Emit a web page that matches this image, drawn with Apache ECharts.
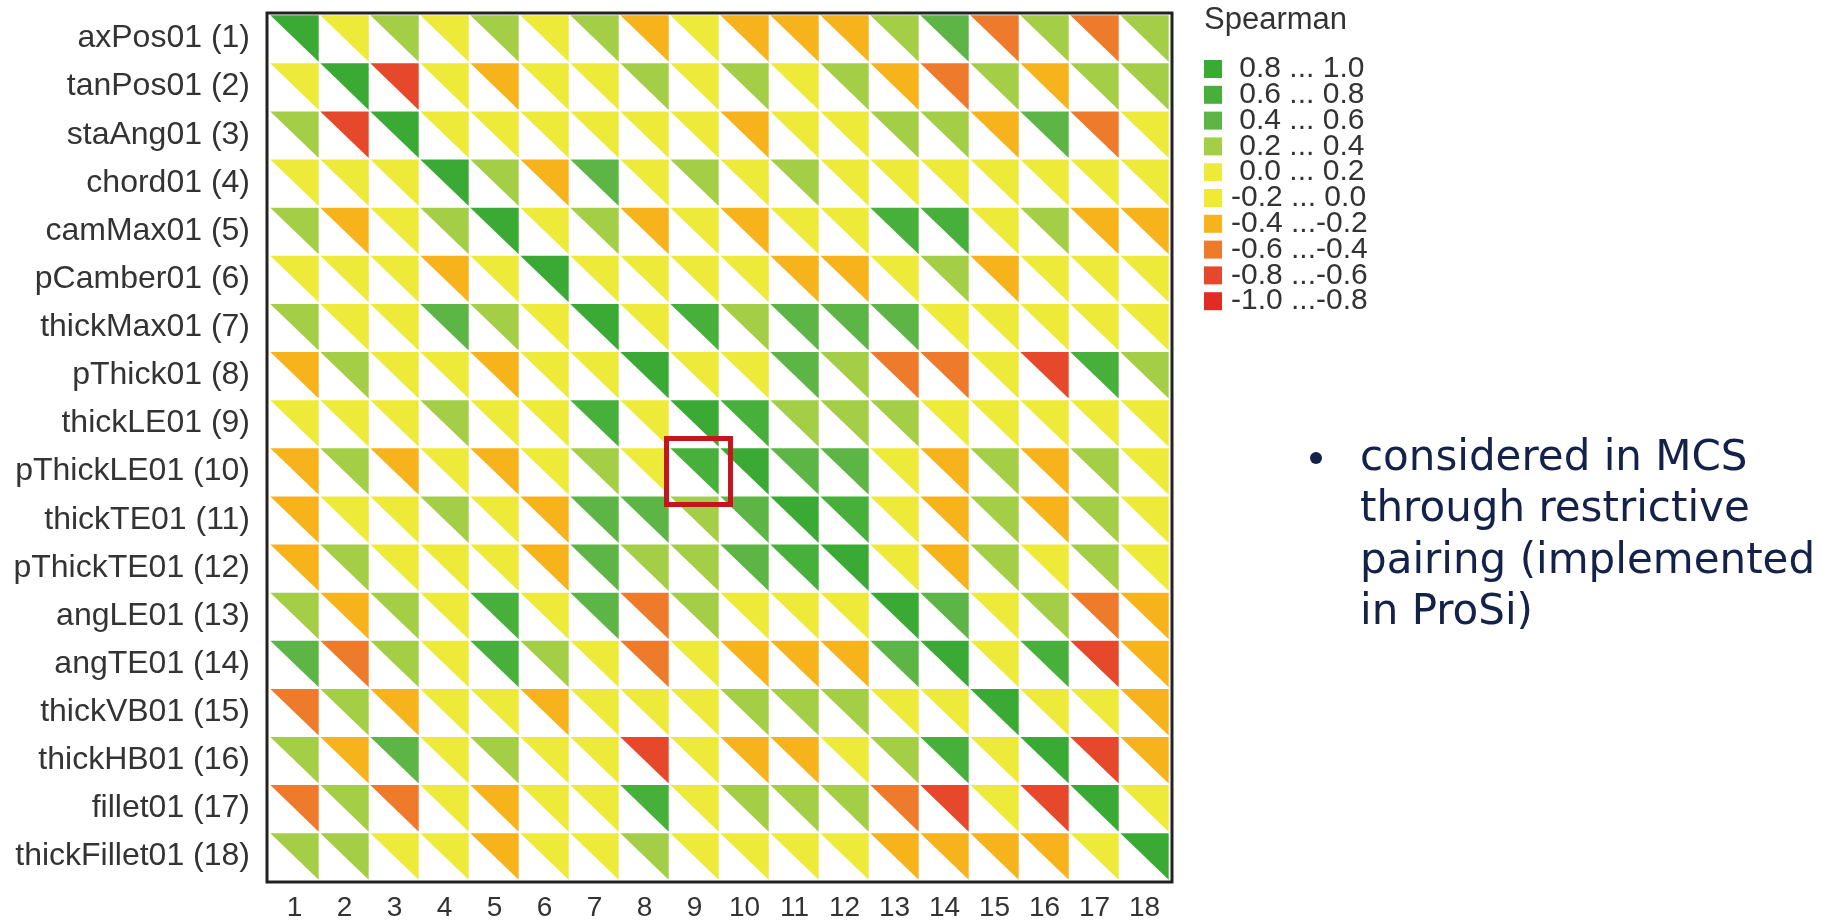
<!DOCTYPE html>
<html><head><meta charset="utf-8">
<script src="https://cdn.jsdelivr.net/npm/echarts@6/dist/echarts.min.js"></script>
<style>html,body{margin:0;padding:0;background:#fff}#c{width:1837px;height:922px}</style>
</head><body><div id="c"></div>
<script>
// ---- data ----
const varNames = ['axPos01','tanPos01','staAng01','chord01','camMax01','pCamber01','thickMax01','pThick01','thickLE01','pThickLE01','thickTE01','pThickTE01','angLE01','angTE01','thickVB01','thickHB01','fillet01','thickFillet01'];
const xTickLabels = ['1','2','3','4','5','6','7','8','9','10','11','12','13','14','15','16','17','18'];
const legendBreaks = [-1.0,-0.8,-0.6,-0.4,-0.2,0.0,0.2,0.4,0.6,0.8,1.0];
const legendColors = ['#e22b22','#e5482a','#ee7b2c','#f6b31c','#f0ea32','#eeea3a','#a4ce46','#5db545','#47b03b','#3aaa35'];
const highlightCell = [9, 10]; // [column, row]
const noteLines = ['considered in MCS','through restrictive','pairing (implemented','in ProSi)'];
// Spearman rank correlation matrix, row i = variable i, column j = variable j
const spearman = [
  [ 1.0, 0.1, 0.3, 0.1, 0.3, 0.1, 0.3,-0.3, 0.1,-0.3,-0.3,-0.3, 0.3, 0.5,-0.5, 0.3,-0.5, 0.3],
  [ 0.1, 1.0,-0.7, 0.1,-0.3, 0.1, 0.1, 0.3, 0.1, 0.3, 0.1, 0.3,-0.3,-0.5, 0.3,-0.3, 0.3, 0.3],
  [ 0.3,-0.7, 1.0, 0.1, 0.1, 0.1, 0.1, 0.1, 0.1,-0.3, 0.1, 0.1, 0.3, 0.3,-0.3, 0.5,-0.5, 0.1],
  [ 0.1, 0.1, 0.1, 1.0, 0.3,-0.3, 0.5, 0.1, 0.3, 0.1, 0.3, 0.1, 0.1, 0.1, 0.1, 0.1, 0.1, 0.1],
  [ 0.3,-0.3, 0.1, 0.3, 1.0, 0.1, 0.3,-0.3, 0.1,-0.3, 0.1, 0.1, 0.7, 0.7, 0.1, 0.3,-0.3,-0.3],
  [ 0.1, 0.1, 0.1,-0.3, 0.1, 1.0, 0.1, 0.1, 0.1, 0.1,-0.3,-0.3, 0.1, 0.3,-0.3, 0.1, 0.1, 0.1],
  [ 0.3, 0.1, 0.1, 0.5, 0.3, 0.1, 1.0, 0.1, 0.7, 0.3, 0.5, 0.5, 0.5, 0.1, 0.1, 0.1, 0.1, 0.1],
  [-0.3, 0.3, 0.1, 0.1,-0.3, 0.1, 0.1, 1.0, 0.1, 0.1, 0.5, 0.3,-0.5,-0.5, 0.1,-0.7, 0.7, 0.3],
  [ 0.1, 0.1, 0.1, 0.3, 0.1, 0.1, 0.7, 0.1, 1.0, 0.7, 0.3, 0.3, 0.3, 0.1, 0.1, 0.1, 0.1, 0.1],
  [-0.3, 0.3,-0.3, 0.1,-0.3, 0.1, 0.3, 0.1, 0.7, 1.0, 0.5, 0.5, 0.1,-0.3, 0.3,-0.3, 0.3, 0.1],
  [-0.3, 0.1, 0.1, 0.3, 0.1,-0.3, 0.5, 0.5, 0.3, 0.5, 1.0, 0.7, 0.1,-0.3, 0.3,-0.3, 0.3, 0.1],
  [-0.3, 0.3, 0.1, 0.1, 0.1,-0.3, 0.5, 0.3, 0.3, 0.5, 0.7, 1.0, 0.1,-0.3, 0.3, 0.1, 0.3, 0.1],
  [ 0.3,-0.3, 0.3, 0.1, 0.7, 0.1, 0.5,-0.5, 0.3, 0.1, 0.1, 0.1, 1.0, 0.5, 0.1, 0.3,-0.5,-0.3],
  [ 0.5,-0.5, 0.3, 0.1, 0.7, 0.3, 0.1,-0.5, 0.1,-0.3,-0.3,-0.3, 0.5, 1.0, 0.1, 0.7,-0.7,-0.3],
  [-0.5, 0.3,-0.3, 0.1, 0.1,-0.3, 0.1, 0.1, 0.1, 0.3, 0.3, 0.3, 0.1, 0.1, 1.0, 0.1, 0.1,-0.3],
  [ 0.3,-0.3, 0.5, 0.1, 0.3, 0.1, 0.1,-0.7, 0.1,-0.3,-0.3, 0.1, 0.3, 0.7, 0.1, 1.0,-0.7,-0.3],
  [-0.5, 0.3,-0.5, 0.1,-0.3, 0.1, 0.1, 0.7, 0.1, 0.3, 0.3, 0.3,-0.5,-0.7, 0.1,-0.7, 1.0, 0.1],
  [ 0.3, 0.3, 0.1, 0.1,-0.3, 0.1, 0.1, 0.3, 0.1, 0.1, 0.1, 0.1,-0.3,-0.3,-0.3,-0.3, 0.1, 1.0]
];

// ---- build ----
const cells = [];
spearman.forEach((row, i) => row.forEach((v, j) => cells.push([j + 1, i + 1, v])));
const fmt = v => (v < 0 ? '' : ' ') + v.toFixed(1);
const pieces = [];
for (let k = 0; k < legendColors.length; k++) {
  const p = { gte: legendBreaks[k], color: legendColors[k], label: fmt(legendBreaks[k]) + ' ...' + fmt(legendBreaks[k + 1]) };
  if (k === legendColors.length - 1) p.lte = legendBreaks[k + 1]; else p.lt = legendBreaks[k + 1];
  pieces.push(p);
}
const ticks = xTickLabels.map(Number);
const FONT = '"Liberation Sans", Arial, sans-serif';

const chart = echarts.init(document.getElementById('c'), null, { renderer: 'canvas' });
chart.setOption({
  backgroundColor: '#ffffff',
  animation: false,
  title: {
    text: 'Spearman', left: 1204, top: 5, padding: 0,
    textStyle: { fontFamily: FONT, fontSize: 31, fontWeight: 'normal', color: '#333333' }
  },
  grid: { left: 267, top: 13, right: 665, bottom: 39, show: true, borderColor: '#222222', borderWidth: 3, backgroundColor: 'transparent', containLabel: false },
  xAxis: {
    type: 'value', min: 0.45, max: 18.55,
    axisLine: { show: false }, axisTick: { show: false }, splitLine: { show: false },
    axisLabel: { customValues: ticks, margin: 12, fontFamily: FONT, fontSize: 28, color: '#333333',
      formatter: v => xTickLabels[Math.round(v) - 1] }
  },
  yAxis: {
    type: 'value', min: 0.47, max: 18.53, inverse: true,
    axisLine: { show: false }, axisTick: { show: false }, splitLine: { show: false },
    axisLabel: { customValues: ticks, margin: 17, fontFamily: FONT, fontSize: 32, color: '#333333',
      padding: [0, 0, 12, 0],
      formatter: v => varNames[Math.round(v) - 1] + ' (' + Math.round(v) + ')' }
  },
  visualMap: {
    type: 'piecewise', seriesIndex: 0, dimension: 2,
    pieces: pieces, orient: 'vertical', left: 1204, top: 54, padding: 0,
    itemWidth: 18, itemHeight: 18, itemGap: -4.2, textGap: 9, align: 'left',
    itemSymbol: 'rect', selectedMode: false, hoverLink: false,
    textStyle: { fontFamily: FONT, fontSize: 30, color: '#333333' }
  },
  series: [
    {
      type: 'custom', data: cells, encode: { x: 0, y: 1 },
      renderItem: function (params, api) {
        const c = api.value(0), r = api.value(1);
        const a = api.coord([c - 0.5, r - 0.5]);
        const b = api.coord([c + 0.5, r + 0.5]);
        const g = 0.8;
        return {
          type: 'polygon',
          shape: { points: [[a[0] + g, a[1] + g], [b[0] - g, a[1] + g], [b[0] - g, b[1] - g]] },
          style: { fill: api.visual('color') }
        };
      }
    },
    {
      type: 'custom', data: [highlightCell], encode: { x: 0, y: 1 }, z: 5,
      renderItem: function (params, api) {
        const c = api.value(0), r = api.value(1);
        const a = api.coord([c - 0.5, r - 0.5]);
        const b = api.coord([c + 0.5, r + 0.5]);
        return {
          type: 'rect',
          shape: { x: a[0] - 3, y: a[1] - 9, width: (b[0] - a[0]) + 14, height: (b[1] - a[1]) + 18 },
          style: { fill: 'none', stroke: '#c4161c', lineWidth: 5 }
        };
      }
    }
  ],
  graphic: [
    { type: 'circle', shape: { cx: 1316, cy: 458, r: 6 }, style: { fill: '#14224a' } },
    { type: 'text', left: 1360, top: 433,
      style: { text: noteLines.join('\n'), fontFamily: '"DejaVu Sans", Verdana, sans-serif', fontSize: 42, lineHeight: 51.5, fill: '#14224a' } }
  ]
});
</script></body></html>
